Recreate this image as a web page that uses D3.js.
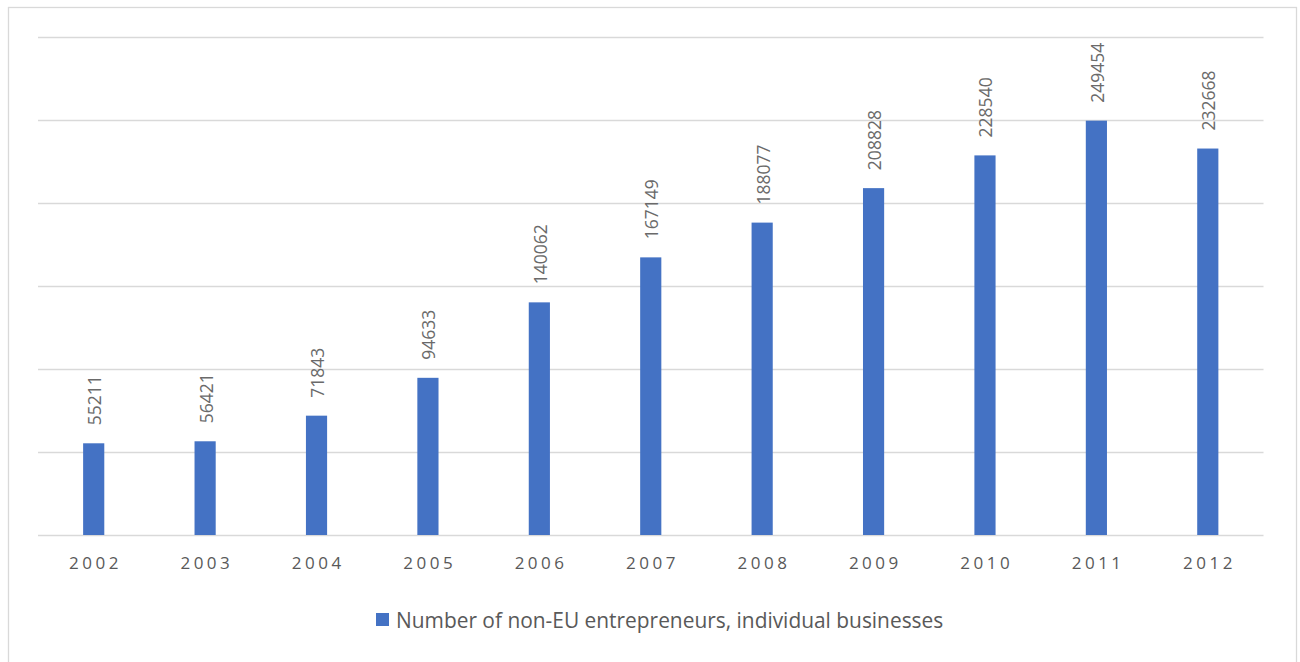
<!DOCTYPE html>
<html>
<head>
<meta charset="utf-8">
<script src="https://cdn.jsdelivr.net/npm/d3@7"></script>
<style>
  html, body { margin: 0; padding: 0; background: #ffffff; }
  svg { display: block; }
</style>
</head>
<body>
<svg id="chart" width="1300" height="662"></svg>
<script>
// Non-EU entrepreneurs with individual businesses, per year
const years = ["2002", "2003", "2004", "2005", "2006", "2007", "2008", "2009", "2010", "2011", "2012"];
const entrepreneurs = [55211, 56421, 71843, 94633, 140062, 167149, 188077, 208828, 228540, 249454, 232668];
const gridTicks = [0, 50000, 100000, 150000, 200000, 250000, 300000];
const seriesName = "Number of non-EU entrepreneurs, individual businesses";

const W = 1300, H = 662;
const plot = { left: 38, right: 1263.5, top: 36.7, bottom: 535 };
const barColor = "#4472C4";
const textColor = "#595959";
const gridColor = "#D9D9D9";
const fontFamily = "'Open Sans', 'Noto Sans', sans-serif";

const svg = d3.select("#chart");

// Outer chart frame
svg.append("rect")
  .attr("x", 8.5).attr("y", 7.5)
  .attr("width", 1288).attr("height", 680)
  .attr("fill", "#ffffff")
  .attr("stroke", gridColor).attr("stroke-width", 1.3);

const x = d3.scaleBand()
  .domain(years)
  .range([plot.left, plot.right])
  .paddingInner(0.81)
  .paddingOuter(0.405);

const y = d3.scaleLinear()
  .domain([0, 300000])
  .range([plot.bottom, plot.top]);

// Horizontal gridlines
svg.append("g")
  .selectAll("line")
  .data(gridTicks)
  .join("line")
  .attr("x1", plot.left).attr("x2", plot.right)
  .attr("y1", d => Math.round(y(d)) + 0.5)
  .attr("y2", d => Math.round(y(d)) + 0.5)
  .attr("stroke", gridColor).attr("stroke-width", 1.5);

// Bars
svg.append("g")
  .selectAll("rect")
  .data(entrepreneurs)
  .join("rect")
  .attr("x", (d, i) => x(years[i]))
  .attr("width", x.bandwidth())
  .attr("y", d => y(d))
  .attr("height", d => y(0) - y(d))
  .attr("fill", barColor);

// Value labels, rotated above each bar
svg.append("g")
  .selectAll("text")
  .data(entrepreneurs)
  .join("text")
  .attr("transform", (d, i) => `translate(${x(years[i]) + x.bandwidth() / 2 + 0.5},${y(d) - 18}) rotate(-90)`)
  .attr("text-anchor", "start")
  .attr("dominant-baseline", "central")
  .attr("font-family", fontFamily)
  .attr("font-size", 17.5)
  .attr("fill", "#6a6a6a")
  .text(d => d);

// Category axis labels
const xAxis = d3.axisBottom(x).tickSize(0).tickPadding(0);
const xg = svg.append("g")
  .attr("transform", `translate(0,${plot.bottom})`)
  .call(xAxis);
xg.select(".domain").remove();
xg.selectAll("text")
  .attr("y", 27)
  .attr("dy", 0)
  .attr("dx", 1.75)
  .attr("dominant-baseline", "central")
  .attr("font-family", fontFamily)
  .attr("font-size", 17)
  .attr("letter-spacing", 3.5)
  .attr("fill", textColor);

// Legend
const legend = svg.append("g");
legend.append("rect")
  .attr("x", 376).attr("y", 613)
  .attr("width", 13).attr("height", 13)
  .attr("fill", barColor);
legend.append("text")
  .attr("x", 396).attr("y", 620)
  .attr("dominant-baseline", "central")
  .attr("font-family", fontFamily)
  .attr("font-size", 20.9)
  .attr("fill", textColor)
  .text(seriesName);
</script>
</body>
</html>
